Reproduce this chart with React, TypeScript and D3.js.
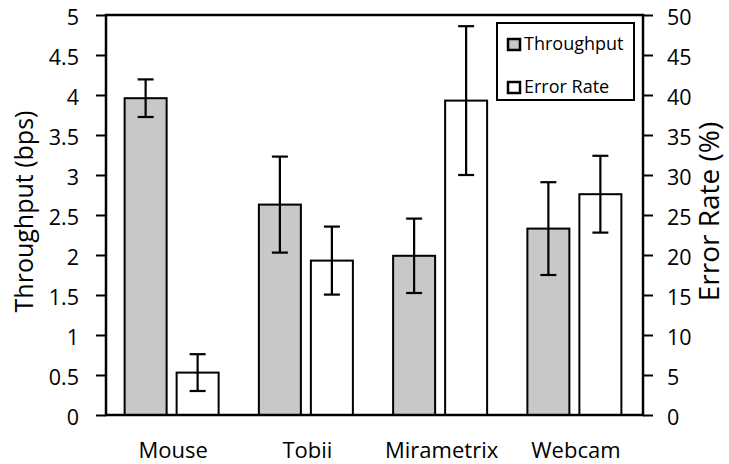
import { useEffect, useRef } from "react"
import * as d3 from "d3"

const devices = ["Mouse", "Tobii", "Mirametrix", "Webcam"]
// throughput in bps, error rate in %
const throughput = [3.96, 2.63, 1.99, 2.33]
const throughputErr = [0.235, 0.6, 0.465, 0.58]
const errorRate = [5.3, 19.3, 39.3, 27.6]
const errorRateErr = [2.3, 4.25, 9.3, 4.8]
const leftTicks = [0, 0.5, 1, 1.5, 2, 2.5, 3, 3.5, 4, 4.5, 5]
const rightTicks = [0, 5, 10, 15, 20, 25, 30, 35, 40, 45, 50]

export default function App() {
  const svgRef = useRef(null)

  useEffect(() => {
    if (!svgRef.current) return
    const svg = d3.select(svgRef.current)
    svg.selectAll("*").remove()

    const width = 729
    const height = 464
    const margin = { top: 15, right: 86, bottom: 49, left: 106 }
    const innerWidth = width - margin.left - margin.right
    const innerHeight = height - margin.top - margin.bottom
    const font = "'Open Sans', sans-serif"

    const x = d3.scaleBand().domain(devices).range([0, innerWidth])
    const yL = d3.scaleLinear().domain([0, 5]).range([innerHeight, 0])
    const yR = d3.scaleLinear().domain([0, 50]).range([innerHeight, 0])

    const barW = 42
    const gap = 10

    const g = svg.append("g").attr("transform", `translate(${margin.left},${margin.top})`)

    // 柱子
    const groups = g
      .selectAll(".grp")
      .data(devices)
      .enter()
      .append("g")
      .attr("transform", (d) => `translate(${x(d)! + x.bandwidth() / 2 - 1.5},0)`)

    groups
      .append("rect")
      .attr("x", -barW - gap / 2)
      .attr("y", (_d, i) => yL(throughput[i]))
      .attr("width", barW)
      .attr("height", (_d, i) => innerHeight - yL(throughput[i]))
      .attr("fill", "#c8c8c8")
      .attr("stroke", "#000")
      .attr("stroke-width", 2)

    groups
      .append("rect")
      .attr("x", gap / 2)
      .attr("y", (_d, i) => yR(errorRate[i]))
      .attr("width", barW)
      .attr("height", (_d, i) => innerHeight - yR(errorRate[i]))
      .attr("fill", "#fff")
      .attr("stroke", "#000")
      .attr("stroke-width", 2)

    // 误差线
    const errBar = (cx: number, lo: number, hi: number, sel: any) => {
      sel.append("line").attr("x1", cx).attr("x2", cx).attr("y1", lo).attr("y2", hi)
      sel.append("line").attr("x1", cx - 8).attr("x2", cx + 8).attr("y1", lo).attr("y2", lo)
      sel.append("line").attr("x1", cx - 8).attr("x2", cx + 8).attr("y1", hi).attr("y2", hi)
    }
    groups.each(function (_d, i) {
      const eg = d3.select(this).append("g").attr("stroke", "#000").attr("stroke-width", 2.2)
      errBar(-barW / 2 - gap / 2, yL(throughput[i] - throughputErr[i]), yL(throughput[i] + throughputErr[i]), eg)
      errBar(barW / 2 + gap / 2, yR(errorRate[i] - errorRateErr[i]), yR(errorRate[i] + errorRateErr[i]), eg)
    })

    // 坐标轴
    const axisL = g.append("g").call(d3.axisLeft(yL).tickValues(leftTicks).tickSize(10).tickPadding(17).tickFormat((d) => String(d)))
    const axisR = g
      .append("g")
      .attr("transform", `translate(${innerWidth},0)`)
      .call(d3.axisRight(yR).tickValues(rightTicks).tickSize(10).tickPadding(14).tickFormat((d) => String(d)))
    const axisB = g
      .append("g")
      .attr("transform", `translate(0,${innerHeight})`)
      .call(d3.axisBottom(x).tickSize(0).tickPadding(27))
    ;[axisL, axisR, axisB].forEach((a) => {
      a.select(".domain").remove()
      a.selectAll("line").attr("stroke", "#000").attr("stroke-width", 2)
      a.selectAll("text").attr("font-family", font).attr("font-size", "21.5px").attr("fill", "#000")
    })
    axisL.selectAll("text").attr("y", 3)
    axisR.selectAll("text").attr("y", 3)
    axisB.selectAll("text").attr("font-size", "22px")

    // 边框
    g.append("rect")
      .attr("x", 0)
      .attr("y", 0)
      .attr("width", innerWidth)
      .attr("height", innerHeight)
      .attr("fill", "none")
      .attr("stroke", "#000")
      .attr("stroke-width", 2.5)

    // 轴标题
    svg
      .append("text")
      .attr("transform", `translate(33,211.5) rotate(-90)`)
      .attr("text-anchor", "middle")
      .attr("font-family", font)
      .attr("font-size", "25px")
      .text("Throughput (bps)")
    svg
      .append("text")
      .attr("transform", `translate(719,211.5) rotate(-90)`)
      .attr("text-anchor", "middle")
      .attr("font-family", font)
      .attr("font-size", "28px")
      .text("Error Rate (%)")

    // 图例
    const legend = svg.append("g").attr("transform", "translate(497,23)")
    legend
      .append("rect")
      .attr("width", 137)
      .attr("height", 77)
      .attr("fill", "#fff")
      .attr("stroke", "#000")
      .attr("stroke-width", 2)
    const legendData = [
      { label: "Throughput", fill: "#c8c8c8" },
      { label: "Error Rate", fill: "#fff" },
    ]
    legendData.forEach((d, i) => {
      const lg = legend.append("g").attr("transform", `translate(11,${16 + i * 43})`)
      lg.append("rect")
        .attr("width", 12)
        .attr("height", 11)
        .attr("fill", d.fill)
        .attr("stroke", "#000")
        .attr("stroke-width", 2.5)
      lg.append("text")
        .attr("x", 16)
        .attr("y", 6)
        .attr("dominant-baseline", "middle")
        .attr("font-family", font)
        .attr("font-size", "18px")
        .text(d.label)
    })

    svg.attr("width", width).attr("height", height).attr("viewBox", [0, 0, width, height])
  }, [])

  return (
    <div style={{ position: "absolute", left: 0, top: 0 }}>
      <svg ref={svgRef} style={{ display: "block" }}></svg>
    </div>
  )
}
